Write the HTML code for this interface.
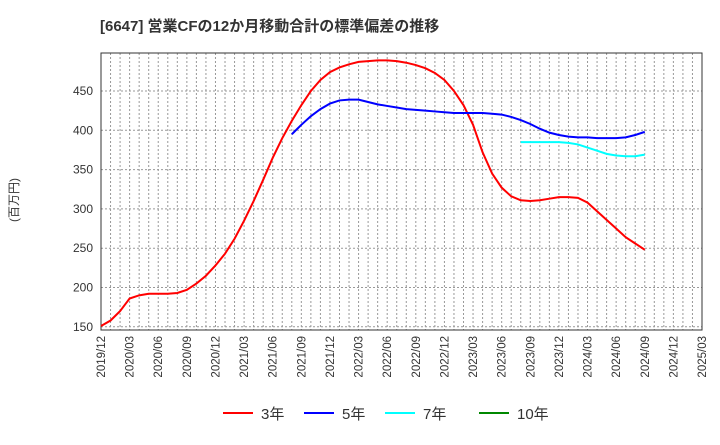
<!DOCTYPE html>
<html><head><meta charset="utf-8"><style>
body{margin:0;background:#fff;font-family:"Liberation Sans","Noto Sans CJK JP",sans-serif;}
</style></head><body>
<svg id="chart" width="720" height="440" xmlns="http://www.w3.org/2000/svg" font-family="Liberation Sans, Noto Sans CJK JP, sans-serif">
<text x="100" y="31" font-size="15" font-weight="bold" fill="#333">[6647]  営業CFの12か月移動合計の標準偏差の推移</text>
<text transform="translate(18,200) rotate(-90)" text-anchor="middle" font-size="12" fill="#333">(百万円)</text>
<g id="grid"></g><g id="axes"></g><g id="series"></g>
<g id="legend"></g>
</svg>
<script>
const yTicks=[150,200,250,300,350,400,450];
const xLabels=["2019/12","2020/03","2020/06","2020/09","2020/12","2021/03","2021/06","2021/09","2021/12","2022/03","2022/06","2022/09","2022/12","2023/03","2023/06","2023/09","2023/12","2024/03","2024/06","2024/09","2024/12","2025/03"];
const s3=[151,158,170,186,190,192,192,192,193,197,205,215,228,243,262,285,310,337,365,390,412,432,450,464,474,480,484,487,488,489,489,488,486,483,479,473,464,450,432,407,372,345,327,316,311,310,311,313,315,315,314,308,297,286,275,264,256,248];
const s5=[395,407,418,427,434,438,439,439,436,433,431,429,427,426,425,424,423,422,422,422,422,421,420,417,413,408,402,397,394,392,391,391,390,390,390,391,394,398];
const s5Start=20;
const s7=[385,385,385,385,385,384,382,378,374,370,368,367,367,369];
const s7Start=44;
const X0=101,X1=702,Y0=53,Y1=330,NM=63;
const x=i=>X0+(X1-X0)*i/NM;
const y=v=>91+(450-v)*39.3/50;
const NS="http://www.w3.org/2000/svg";
function mk(tag,attrs,parent){const e=document.createElementNS(NS,tag);for(const k in attrs)e.setAttribute(k,attrs[k]);parent.appendChild(e);return e;}
const grid=document.getElementById('grid'),axes=document.getElementById('axes'),ser=document.getElementById('series'),leg=document.getElementById('legend');
for(let i=1;i<NM;i++){const l=mk('line',{x1:x(i),x2:x(i),y1:Y0,y2:Y1,stroke:'#999','stroke-dasharray':'2,2','stroke-width':1},grid);

}
yTicks.forEach(v=>{const l=mk('line',{x1:X0,x2:X1,y1:y(v),y2:y(v),stroke:'#999','stroke-dasharray':'2,2'},grid);


const t=mk('text',{x:X0-8,y:y(v)+4,'text-anchor':'end','font-size':12,fill:'#333'},axes);t.textContent=v;

});
const r=mk('rect',{x:X0,y:Y0,width:X1-X0,height:Y1-Y0,fill:'none',stroke:'#333'},axes);


xLabels.forEach((s,i)=>{const px=x(i*3);const t=mk('text',{transform:`translate(${px+4},${Y1+6}) rotate(-90)`,'text-anchor':'end','font-size':11.5,fill:'#333'},axes);t.textContent=s;

});
function line(arr,start,color,name){const p=mk('polyline',{points:arr.map((v,i)=>x(start+i)+','+y(v)).join(' '),fill:'none',stroke:color,'stroke-width':2},ser);

}
line(s3,0,'#f00','series-3y');line(s5,s5Start,'#00f','series-5y');line(s7,s7Start,'#0ff','series-7y');
[['3年','#f00',223],['5年','#00f',304],['7年','#0ff',385],['10年','#080',479]].forEach(([n,c,lx])=>{
const g=mk('g',{},leg);


mk('line',{x1:lx,x2:lx+30,y1:413,y2:413,stroke:c,'stroke-width':2},g);
const t=mk('text',{x:lx+38,y:419,'font-size':15,fill:'#333'},g);t.textContent=n;});
</script>
</body></html>
